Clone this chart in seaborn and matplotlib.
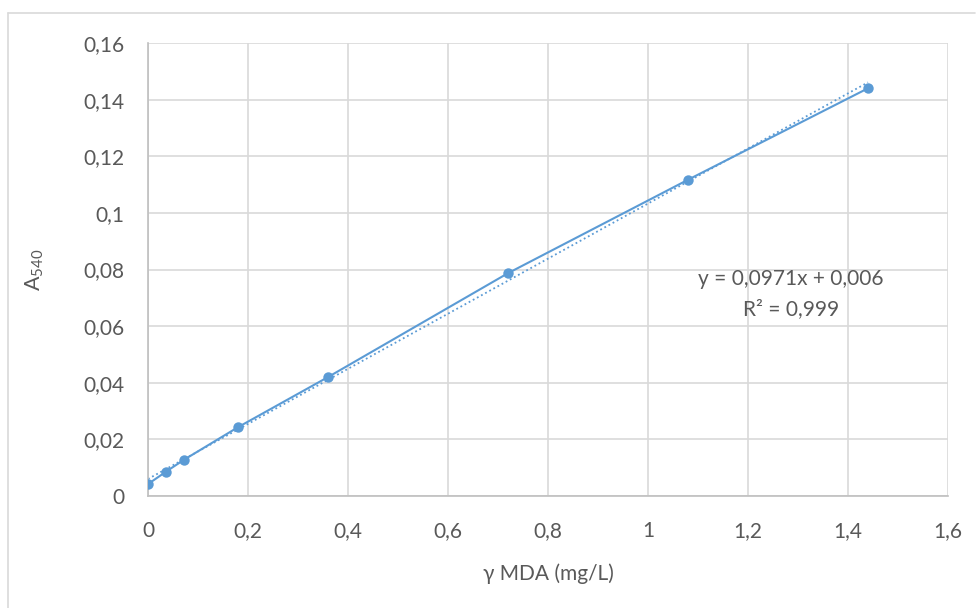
import matplotlib
matplotlib.use("Agg")
import matplotlib.pyplot as plt
import seaborn as sns
import numpy as np
import pandas as pd
from matplotlib.ticker import FuncFormatter, MultipleLocator
from matplotlib.lines import Line2D

# Data
conc = [0.0, 0.036, 0.072, 0.18, 0.36, 0.72, 1.08, 1.44]
absorb = [0.0042, 0.0086, 0.0128, 0.0243, 0.0420, 0.0787, 0.1117, 0.1440]
eq_text = "y = 0,0971x + 0,006"
r2_text = "R² = 0,999"
x_label = "γ MDA (mg/L)"

df = pd.DataFrame({"x": conc, "y": absorb})

sns.set_theme(style="white")
plt.rcParams["font.family"] = ["Lato", "DejaVu Sans"]
plt.rcParams["mathtext.fontset"] = "custom"
plt.rcParams["mathtext.rm"] = "Lato"

color = "#5B9BD5"
txt = "#595959"
fs = 15

fig = plt.figure(figsize=(9.77, 6.08), dpi=100)
ax = fig.add_axes([148 / 977, 1 - 496 / 608, 800 / 977, 453 / 608])

sns.lineplot(data=df, x="x", y="y", ax=ax, color=color, lw=1.5,
             marker="o", markersize=7.5, markeredgewidth=0, zorder=3)
sns.regplot(data=df, x="x", y="y", ax=ax, scatter=False, ci=None,
            color=color, line_kws={"lw": 1.3, "ls": (0, (1, 1.6))})

ax.set_xlim(0, 1.6)
ax.set_ylim(0, 0.16)
ax.xaxis.set_major_locator(MultipleLocator(0.2))
ax.yaxis.set_major_locator(MultipleLocator(0.02))
fmt = FuncFormatter(lambda v, p: f"{v:g}".replace(".", ",").replace("-0", "0"))
ax.xaxis.set_major_formatter(fmt)
ax.yaxis.set_major_formatter(fmt)

ax.grid(True, color="#D9D9D9", lw=1.2)
ax.set_axisbelow(True)
for s in ["top", "right"]:
    ax.spines[s].set_visible(False)
ax.spines["left"].set_color("#BFBFBF")
ax.spines["bottom"].set_color("#BFBFBF")
ax.spines["left"].set_linewidth(1.2)
ax.spines["bottom"].set_linewidth(1.2)

ax.tick_params(axis="both", length=0, labelsize=fs, colors=txt)
ax.tick_params(axis="y", pad=17)
ax.tick_params(axis="x", pad=18)

ax.set_xlabel(x_label, fontsize=fs, color=txt, labelpad=16)
ax.set_ylabel(r"A$_{\mathrm{540}}$", fontsize=fs + 0.5, color=txt, labelpad=27)

ax.text(1.286, 0.0767, eq_text, ha="center", va="center", fontsize=fs, color=txt)
ax.text(1.286, 0.0661, r2_text, ha="center", va="center", fontsize=fs, color=txt)

# outer chart frame
fig.add_artist(Line2D([8 / 977, 8 / 977], [0, 1 - 13 / 608], transform=fig.transFigure,
                      color="#D9D9D9", lw=1.2))
fig.add_artist(Line2D([8 / 977, 975 / 977], [1 - 13 / 608, 1 - 13 / 608], transform=fig.transFigure,
                      color="#D9D9D9", lw=1.2))

fig.savefig("out.png", dpi=100)
